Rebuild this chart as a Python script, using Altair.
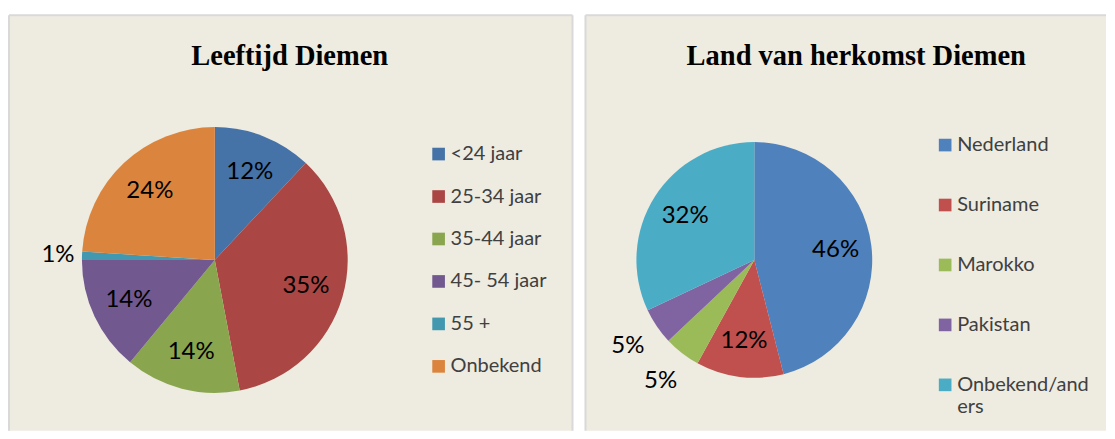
import altair as alt
import pandas as pd

# Data
age_cats = ["<24 jaar", "25-34 jaar", "35-44 jaar", "45- 54 jaar", "55 +", "Onbekend"]
age_vals = [12, 35, 14, 14, 1, 24]
age_colors = ["#4572A7", "#AA4643", "#89A54E", "#71588F", "#4198AF", "#DB843D"]

land_cats = ["Nederland", "Suriname", "Marokko", "Pakistan", "Onbekend/anders"]
land_vals = [46, 12, 5, 5, 32]
land_colors = ["#4F81BD", "#C0504D", "#9BBB59", "#8064A2", "#4BACC6"]

titles = ["Leeftijd Diemen", "Land van herkomst Diemen"]

BG = "#EEEBE0"
BORDER = "#D9D9D9"
LABEL_FONT = "Lato"
TITLE_FONT = "Liberation Serif"


def make_df(cats, vals):
    return pd.DataFrame({
        "cat": cats,
        "val": vals,
        "idx": list(range(len(cats))),
        "lab": [f"{v}%" for v in vals],
    })


def border_rules(pw, ph, right_edge):
    one = pd.DataFrame({"d": [0]})
    rules = [
        alt.Chart(one).mark_rule(color=BORDER, strokeWidth=2).encode(
            x=alt.value(0), x2=alt.value(pw), y=alt.value(0)),
        alt.Chart(one).mark_rule(color=BORDER, strokeWidth=2).encode(
            x=alt.value(0), y=alt.value(0), y2=alt.value(ph)),
    ]
    if right_edge:
        rules.append(alt.Chart(one).mark_rule(color=BORDER, strokeWidth=2).encode(
            x=alt.value(pw), y=alt.value(0), y2=alt.value(ph)))
    return rules


def pie_panel(cats, vals, colors, title, pw, ph, cx, cy, r, r_in, r_out,
              legend_x, legend_y, row_pad, title_x, right_edge, label_expr=None):
    df = make_df(cats, vals)
    legend_kwargs = dict(
        title=None, orient="none", legendX=legend_x, legendY=legend_y,
        symbolType="square", symbolSize=160, symbolStrokeWidth=0,
        labelFont=LABEL_FONT, labelFontSize=20, labelColor="#404040",
        rowPadding=row_pad, labelOffset=2, padding=0, labelLimit=300,
    )
    if label_expr:
        legend_kwargs["labelExpr"] = label_expr
    base = alt.Chart(df).encode(
        theta=alt.Theta("val:Q", stack=True),
        order=alt.Order("idx:Q", sort="ascending"),
    )
    arcs = base.mark_arc(radius=r).encode(
        color=alt.Color("cat:N", sort=cats,
                        scale=alt.Scale(domain=cats, range=colors),
                        legend=alt.Legend(**legend_kwargs)),
        x=alt.value(cx), y=alt.value(cy),
    )
    inside = base.mark_text(radius=r_in, font=LABEL_FONT, fontSize=24,
                            color="#000000").encode(
        text="lab:N", x=alt.value(cx), y=alt.value(cy),
        opacity=alt.condition("datum.val >= 10", alt.value(1), alt.value(0)),
    )
    outside = base.mark_text(radius=r_out, font=LABEL_FONT, fontSize=24,
                             color="#000000").encode(
        text="lab:N", x=alt.value(cx), y=alt.value(cy),
        opacity=alt.condition("datum.val < 10", alt.value(1), alt.value(0)),
    )
    ttl = alt.Chart(pd.DataFrame({"t": [title]})).mark_text(
        font=TITLE_FONT, fontSize=28.5, fontWeight="bold", color="#000000",
        align="center", baseline="alphabetic",
    ).encode(text="t:N", x=alt.value(title_x), y=alt.value(50))
    layers = [arcs, inside, outside, ttl] + border_rules(pw, ph, right_edge)
    return alt.layer(*layers).properties(width=pw, height=ph)


left = pie_panel(age_cats, age_vals, age_colors, titles[0],
                 564, 416, 206, 245, 133, 95, 157, 420, 129, 22.5, 281, True)
right = pie_panel(land_cats, land_vals, land_colors, titles[1],
                  521, 416, 169, 245, 118, 82, 153, 350, 120, 40, 271, False,
                  label_expr="datum.label == 'Onbekend/anders' ? ['Onbekend/and', 'ers'] : datum.label")

chart = alt.hconcat(left, right, spacing=11).resolve_scale(
    color="independent", theta="independent"
).resolve_legend(color="independent").properties(
    padding={"left": 0, "top": 6, "right": 0, "bottom": 0},
    background="#FFFFFF",
).configure_view(fill=BG, strokeWidth=0)

chart.save("out.html", embed_options={"renderer": "svg", "actions": False})
